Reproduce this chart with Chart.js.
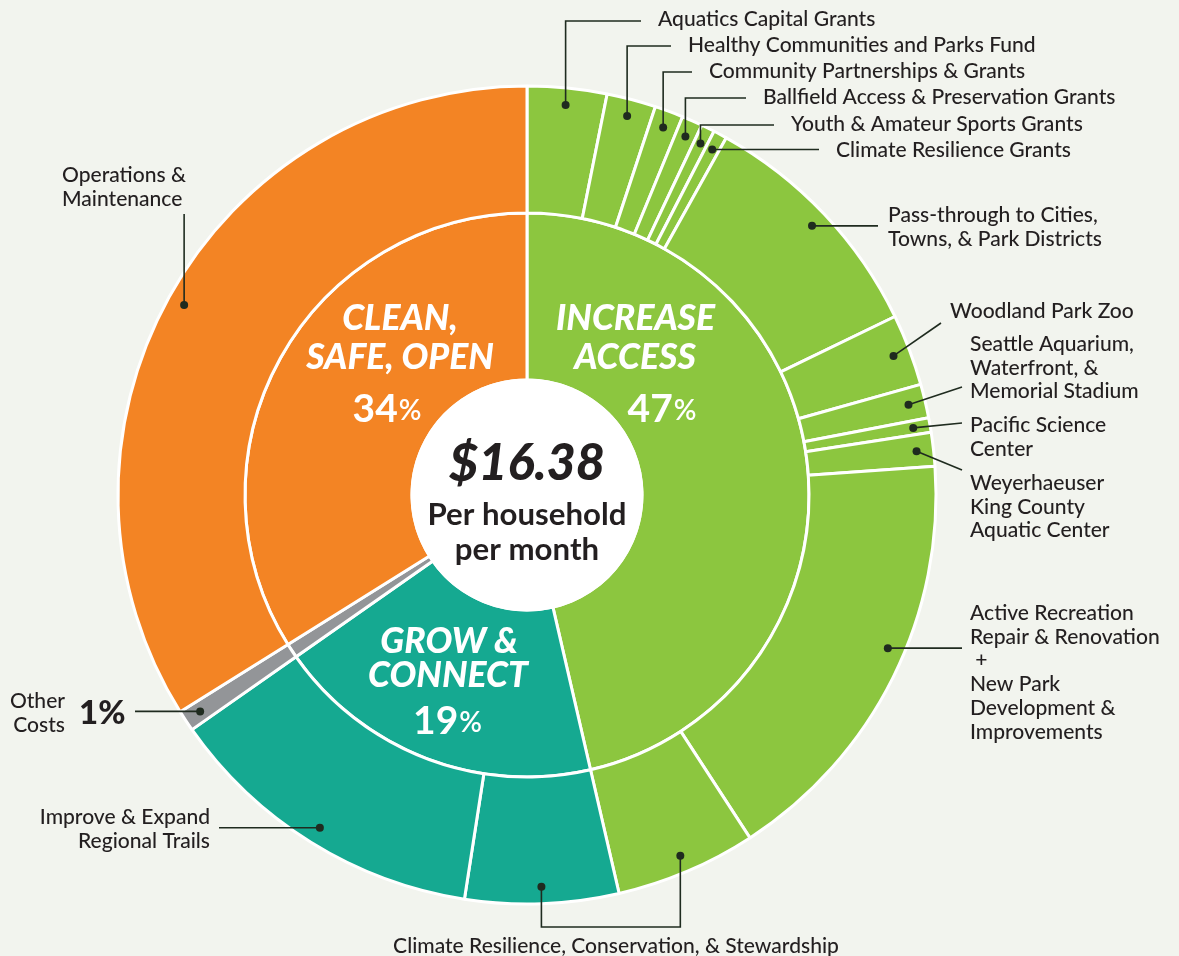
<!DOCTYPE html>
<html><head><meta charset="utf-8">
<script src="https://cdn.jsdelivr.net/npm/chart.js@4.4.1/dist/chart.umd.min.js"></script>
<style>html,body{margin:0;padding:0;background:#f2f4ee;overflow:hidden}canvas{display:block}</style>
</head><body>
<canvas id="c" width="1179" height="956"></canvas>
<script>
// ---------- DATA (share of $16.38 per household per month, %) ----------
const innerLabels = ['Increase Access', 'Grow & Connect', 'Other Costs', 'Clean, Safe, Open'];
const innerValues = [46.38, 18.89, 0.83, 33.89];
const innerPctText = ['47%', '19%', '1%', '34%'];
const innerTitles = [['INCREASE', 'ACCESS'], ['GROW &', 'CONNECT'], [], ['CLEAN,', 'SAFE, OPEN']];

const outerLabels = [
  'Aquatics Capital Grants',
  'Healthy Communities and Parks Fund',
  'Community Partnerships & Grants',
  'Ballfield Access & Preservation Grants',
  'Youth & Amateur Sports Grants',
  'Climate Resilience Grants',
  'Pass-through to Cities, Towns, & Park Districts',
  'Woodland Park Zoo',
  'Seattle Aquarium, Waterfront, & Memorial Stadium',
  'Pacific Science Center',
  'Weyerhaeuser King County Aquatic Center',
  'Active Recreation Repair & Renovation + New Park Development & Improvements',
  'Climate Resilience, Conservation, & Stewardship (Increase Access)',
  'Climate Resilience, Conservation, & Stewardship (Grow & Connect)',
  'Improve & Expand Regional Trails',
  'Other Costs',
  'Operations & Maintenance'
];
const outerValues = [3.14, 1.94, 1.13, 0.82, 0.53, 0.54, 9.71, 2.83, 1.33, 0.58, 1.33, 16.94, 5.56, 6.06, 12.83, 0.83, 33.89];
const outerGroup  = [0, 0, 0, 0, 0, 0, 0, 0, 0, 0, 0, 0, 0, 1, 1, 2, 3];
const centerAmount = '$16.38';
const centerLines = ['Per household', 'per month'];

// ---------- STYLE ----------
const groupColors = ['#8cc63f', '#15a991', '#939598', '#f38424'];
const ink = '#231f20';
const leaderInk = '#1f2b1f';
const FAM = 'Lato, "Open Sans", sans-serif';

// label layout (text placement + leader routing)
const callouts = [
  {i:0, lead:'elbow', ly:21, ex:641, lines:[outerLabels[0]], x:658, y:19},
  {i:1, lead:'elbow', ly:46, ex:671, lines:[outerLabels[1]], x:688, y:45},
  {i:2, lead:'elbow', ly:72, ex:692, lines:[outerLabels[2]], x:709, y:71},
  {i:3, lead:'elbow', ly:98, ex:746, lines:[outerLabels[3]], x:763, y:97},
  {i:4, lead:'elbow', ly:125, ex:774, lines:[outerLabels[4]], x:791, y:124},
  {i:5, lead:'line', ex:819, lines:[outerLabels[5]], x:836, y:150},
  {i:6, lead:'line', ex:878, lines:['Pass-through to Cities,', 'Towns, & Park Districts'], x:888, y:215},
  {i:7, lead:'line', ex:941, ey:323, lines:['Woodland Park Zoo'], x:950, y:311},
  {i:8, lead:'line', ex:962, ey:387, lines:['Seattle Aquarium,', 'Waterfront, &', 'Memorial Stadium'], x:970, y:344},
  {i:9, lead:'line', ex:962, ey:423, lines:['Pacific Science', 'Center'], x:970, y:425},
  {i:10, lead:'line', ex:962, ey:470, lines:['Weyerhaeuser', 'King County', 'Aquatic Center'], x:970, y:483},
  {i:11, lead:'line', ang:113, ex:962, lines:['Active Recreation', 'Repair & Renovation', ' +', 'New Park', 'Development &', 'Improvements'], x:970, y:613},
  {i:14, lead:'line', ex:219, lines:['Improve & Expand', 'Regional Trails'], x:210, y:817, align:'right'},
  {i:15, lead:'line', ex:135, lines:['Other', 'Costs'], x:65, y:701, align:'right'},
  {i:16, lead:'vert', ey:214, lines:['Operations &', 'Maintenance'], x:62, y:175}
];

const overlay = {
  id: 'overlay',
  afterDatasetsDraw(chart) {
    const ctx = chart.ctx;
    const outer = chart.getDatasetMeta(0).data;
    const inner = chart.getDatasetMeta(1).data;
    const cx = inner[0].x, cy = inner[0].y;
    ctx.save();
    // white hole
    ctx.fillStyle = '#ffffff';
    ctx.beginPath();
    ctx.arc(cx, cy, inner[0].innerRadius + 1.5, 0, Math.PI * 2);
    ctx.fill();

    const fit = (txt, font, target) => { ctx.font = font.replace('SZ', '100px'); return 100 * target / ctx.measureText(txt).width; };

    // centre text
    ctx.fillStyle = ink; ctx.textAlign = 'center'; ctx.textBaseline = 'middle';
    let s = fit(centerAmount, 'italic 900 SZ ' + FAM, 156);
    ctx.font = 'italic 900 ' + s + 'px ' + FAM;
    ctx.fillText(centerAmount, cx, cy - 31);
    s = fit(centerLines[0], 'bold SZ ' + FAM, 199);
    ctx.font = 'bold ' + s + 'px ' + FAM;
    ctx.fillText(centerLines[0], cx, cy + 20);
    ctx.fillText(centerLines[1], cx, cy + 55);

    function drawPct(txt, x, y, col, dsz, psz, pw) {
      const num = txt.replace('%', '');
      ctx.font = 'bold ' + dsz + 'px ' + FAM;
      const w1 = ctx.measureText(num).width;
      ctx.font = pw + ' ' + psz + 'px ' + FAM;
      const w2 = ctx.measureText('%').width;
      const x0 = x - (w1 + w2 + 1) / 2;
      ctx.fillStyle = col; ctx.textAlign = 'left';
      ctx.font = 'bold ' + dsz + 'px ' + FAM;
      ctx.fillText(num, x0, y);
      ctx.font = pw + ' ' + psz + 'px ' + FAM;
      ctx.fillText('%', x0 + w1 + 1, y + (dsz - psz) * 0.18);
      ctx.textAlign = 'center';
    }

    // ring titles
    ctx.fillStyle = '#ffffff';
    const ts = fit('INCREASE', 'italic 900 SZ ' + FAM, 159);
    const titlePos = [
      {t:[[635.5, 319], [635, 358]], p:[662, 409]},
      {t:[[449, 642], [448, 676]], p:[447.5, 721]},
      null,
      {t:[[400, 319], [400, 358]], p:[387, 409]}
    ];
    titlePos.forEach((tp, k) => {
      if (!tp) return;
      ctx.fillStyle = '#ffffff';
      ctx.font = 'italic 900 ' + ts + 'px ' + FAM;
      innerTitles[k].forEach((ln, j) => ctx.fillText(ln, tp.t[j][0], tp.t[j][1]));
      drawPct(innerPctText[k], tp.p[0], tp.p[1], '#ffffff', 39, 28, '600');
    });

    // leaders & labels
    const lblSize = fit('Climate Resilience, Conservation, & Stewardship', '500 SZ ' + FAM, 446);
    const dot = (i, angDeg) => {
      const a = outer[i];
      const ang = angDeg !== undefined ? (angDeg - 90) * Math.PI / 180 : (a.startAngle + a.endAngle) / 2;
      const r = a.outerRadius - 17;
      return [a.x + r * Math.cos(ang), a.y + r * Math.sin(ang)];
    };
    const drawDot = (p) => { ctx.fillStyle = leaderInk; ctx.beginPath(); ctx.arc(p[0], p[1], 4, 0, Math.PI * 2); ctx.fill(); };
    ctx.strokeStyle = leaderInk; ctx.lineWidth = 1.6;
    callouts.forEach(c => {
      const p = dot(c.i, c.ang);
      ctx.strokeStyle = leaderInk; ctx.lineWidth = 1.6;
      ctx.beginPath(); ctx.moveTo(p[0], p[1]);
      if (c.lead === 'elbow') { ctx.lineTo(p[0], c.ly); ctx.lineTo(c.ex, c.ly); }
      else if (c.lead === 'vert') { ctx.lineTo(p[0], c.ey); }
      else { ctx.lineTo(c.ex, c.ey !== undefined ? c.ey : p[1]); }
      ctx.stroke();
      drawDot(p);
      ctx.fillStyle = ink; ctx.font = '500 ' + lblSize + 'px ' + FAM;
      ctx.textAlign = c.align || 'left'; ctx.textBaseline = 'middle';
      c.lines.forEach((ln, j) => ctx.fillText(ln, c.x, c.y + j * 23.8));
    });
    // shared bracket for Climate Resilience, Conservation, & Stewardship
    const pa = dot(12), pb = dot(13);
    ctx.strokeStyle = leaderInk; ctx.lineWidth = 1.6;
    ctx.beginPath(); ctx.moveTo(pa[0], pa[1]); ctx.lineTo(pa[0], 927); ctx.lineTo(pb[0], 927); ctx.lineTo(pb[0], pb[1]); ctx.stroke();
    drawDot(pa); drawDot(pb);
    ctx.fillStyle = ink; ctx.textAlign = 'center'; ctx.font = '500 ' + lblSize + 'px ' + FAM;
    ctx.fillText('Climate Resilience, Conservation, & Stewardship', 616, 946);
    // Other costs percent
    ctx.font = '900 33px ' + FAM; ctx.textAlign = 'left'; ctx.fillStyle = ink;
    ctx.fillText(innerPctText[2], 79, 713);
    ctx.restore();
  }
};

new Chart(document.getElementById('c'), {
  type: 'doughnut',
  data: {
    labels: outerLabels,
    datasets: [
      {label: 'Programs', data: outerValues, backgroundColor: outerGroup.map(g => groupColors[g]), borderColor: '#ffffff', borderWidth: 3, weight: 127},
      {label: 'Categories', data: innerValues, backgroundColor: groupColors, borderColor: '#ffffff', borderWidth: 3, weight: 167}
    ]
  },
  options: {
    responsive: false, devicePixelRatio: 1, animation: false, events: [],
    cutout: 115,
    layout: {padding: {left: 116.5, right: 241.5, top: 84.5, bottom: 50.5}},
    plugins: {legend: {display: false}, tooltip: {enabled: false}}
  },
  plugins: [overlay]
});
</script>
</body></html>
